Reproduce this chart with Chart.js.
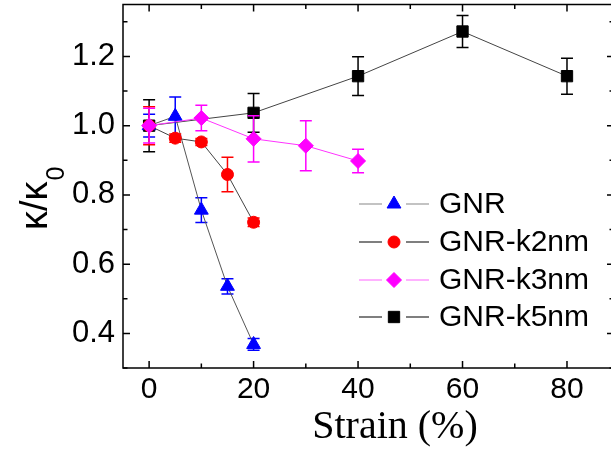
<!DOCTYPE html>
<html>
<head>
<meta charset="utf-8">
<script src="https://cdn.jsdelivr.net/npm/chart.js@4.4.1/dist/chart.umd.min.js"></script>
<style>
    html, body { margin: 0; padding: 0; background: #fff; overflow: hidden; }
    #wrap { width: 622px; height: 459px; }
</style>
</head>
<body>
<div id="wrap"><canvas id="kappaChart" width="622" height="459"></canvas></div>
<script>
// Series names
const seriesNames = ['GNR', 'GNR-k2nm', 'GNR-k3nm', 'GNR-k5nm'];

// Strain (%) of each series
const gnrStrain = [0, 5, 10, 15, 20];
const k2Strain = [0, 5, 10, 15, 20];
const k3Strain = [0, 10, 20, 30, 40];
const k5Strain = [0, 20, 40, 60, 80];

// kappa / kappa0
const gnrKappa = [1.0, 1.027, 0.756, 0.536, 0.368];
const k2Kappa = [1.0, 0.964, 0.953, 0.859, 0.721];
const k3Kappa = [1.0, 1.022, 0.962, 0.942, 0.898];
const k5Kappa = [1.0, 1.037, 1.143, 1.272, 1.143];

// Error bars (+/-)
const gnrErr = [0.033, 0.056, 0.036, 0.022, 0.017];
const k2Err = [0.055, 0.012, 0.01, 0.05, 0.012];
const k3Err = [0.05, 0.037, 0.067, 0.072, 0.034];
const k5Err = [0.075, 0.056, 0.056, 0.046, 0.052];

// Tick labels
const xTicks = [0, 20, 40, 60, 80];
const xMinorTicks = [10, 30, 50, 70];
const yTicks = [0.4, 0.6, 0.8, 1.0, 1.2];
const yMinorTicks = [0.3, 0.5, 0.7, 0.9, 1.1, 1.3];

function points(xs, ys) {
    return xs.map(function (x, i) { return { x: x, y: ys[i] }; });
}

// Error bars drawn just before each dataset so markers sit on top
const errorBarPlugin = {
    id: 'errorBars',
    beforeDatasetDraw: function (chart, args) {
        const ds = chart.data.datasets[args.index];
        if (!ds.errors) return;
        const ctx = chart.ctx;
        const yScale = chart.scales.y;
        const meta = args.meta;
        ctx.save();
        ctx.strokeStyle = ds.errorColor;
        ctx.lineWidth = 1.5;
        meta.data.forEach(function (pt, i) {
            const val = ds.data[i].y;
            const err = ds.errors[i];
            const top = yScale.getPixelForValue(val + err);
            const bot = yScale.getPixelForValue(val - err);
            ctx.beginPath();
            ctx.moveTo(pt.x, top);
            ctx.lineTo(pt.x, bot);
            ctx.moveTo(pt.x - 6, top);
            ctx.lineTo(pt.x + 6, top);
            ctx.moveTo(pt.x - 6, bot);
            ctx.lineTo(pt.x + 6, bot);
            ctx.stroke();
        });
        ctx.restore();
    }
};

// Frame, inward ticks, axis titles and legend
const decorPlugin = {
    id: 'decor',
    afterDraw: function (chart) {
        const ctx = chart.ctx;
        const a = chart.chartArea;
        const xs = chart.scales.x;
        const ys = chart.scales.y;
        ctx.save();
        ctx.strokeStyle = '#000';
        ctx.lineWidth = 1.5;
        ctx.strokeRect(a.left, a.top, a.right - a.left, a.bottom - a.top);

        ctx.beginPath();
        function xTick(v, len) {
            const px = xs.getPixelForValue(v);
            ctx.moveTo(px, a.bottom); ctx.lineTo(px, a.bottom - len);
            ctx.moveTo(px, a.top); ctx.lineTo(px, a.top + len);
        }
        function yTick(v, len) {
            const py = ys.getPixelForValue(v);
            ctx.moveTo(a.left, py); ctx.lineTo(a.left + len, py);
            ctx.moveTo(a.right, py); ctx.lineTo(a.right - len, py);
        }
        xTicks.forEach(function (v) { xTick(v, 7); });
        xMinorTicks.forEach(function (v) { xTick(v, 4.5); });
        yTicks.forEach(function (v) { yTick(v, 7); });
        yMinorTicks.forEach(function (v) { yTick(v, 4.5); });
        ctx.stroke();

        // x title
        ctx.fillStyle = '#000';
        ctx.font = '40px "Liberation Serif", "Times New Roman", serif';
        ctx.textAlign = 'center';
        ctx.textBaseline = 'alphabetic';
        ctx.fillText('Strain (%)', 395, 438);

        // y title with subscript
        ctx.save();
        ctx.translate(47, 230);
        ctx.rotate(-Math.PI / 2);
        ctx.textAlign = 'left';
        ctx.font = '38px "Liberation Sans", Arial, sans-serif';
        ctx.fillText('\u03BA/\u03BA', 0, 0);
        const w = ctx.measureText('\u03BA/\u03BA').width;
        ctx.font = '25px "Liberation Sans", Arial, sans-serif';
        ctx.fillText('0', w + 1, 17);
        ctx.restore();

        // legend
        const rows = [204, 242, 280, 317];
        ctx.font = '30px "Liberation Sans", Arial, sans-serif';
        ctx.textAlign = 'left';
        ctx.textBaseline = 'middle';
        chart.data.datasets.forEach(function (ds, i) {
            const y = rows[i];
            ctx.strokeStyle = ds.legendLine;
            ctx.lineWidth = 1.2;
            ctx.beginPath();
            ctx.moveTo(359, y); ctx.lineTo(382, y);
            ctx.moveTo(406, y); ctx.lineTo(429, y);
            ctx.stroke();
            ctx.fillStyle = ds.pointBackgroundColor;
            ctx.strokeStyle = ds.pointBorderColor;
            ctx.lineWidth = 1;
            Chart.helpers.drawPoint(ctx, {
                pointStyle: ds.pointStyle, radius: ds.pointRadius, rotation: 0, borderWidth: 1
            }, 394, y);
            ctx.fillStyle = '#000';
            ctx.fillText(ds.label, 439, y + 1);
        });
        ctx.restore();
    }
};

// Chart.js pads vertical scales for half a label; this plot has none
function noScalePadding(scale) {
    scale.paddingTop = 0;
    scale.paddingBottom = 0;
    scale.paddingLeft = 0;
    scale.paddingRight = 0;
}

const ctx = document.getElementById('kappaChart').getContext('2d');
const kappaChart = new Chart(ctx, {
    type: 'scatter',
    data: {
        datasets: [
            {
                label: seriesNames[0],
                data: points(gnrStrain, gnrKappa),
                errors: gnrErr,
                errorColor: '#0000ff',
                legendLine: '#888888',
                showLine: true,
                borderColor: '#555555',
                borderWidth: 1,
                pointStyle: 'triangle',
                pointRadius: 8,
                pointBackgroundColor: '#0000ff',
                pointBorderColor: '#0000ff',
                pointBorderWidth: 1,
                order: 3
            },
            {
                label: seriesNames[1],
                data: points(k2Strain, k2Kappa),
                errors: k2Err,
                errorColor: '#ff0000',
                legendLine: '#000000',
                showLine: true,
                borderColor: '#444444',
                borderWidth: 1,
                pointStyle: 'circle',
                pointRadius: 6,
                pointBackgroundColor: '#ff0000',
                pointBorderColor: '#ff0000',
                pointBorderWidth: 1,
                order: 2
            },
            {
                label: seriesNames[2],
                data: points(k3Strain, k3Kappa),
                errors: k3Err,
                errorColor: '#ff00ff',
                legendLine: '#ff66ff',
                showLine: true,
                borderColor: '#ff33ff',
                borderWidth: 1,
                pointStyle: 'rectRot',
                pointRadius: 7.5,
                pointBackgroundColor: '#ff00ff',
                pointBorderColor: '#ff00ff',
                pointBorderWidth: 1,
                order: 1
            },
            {
                label: seriesNames[3],
                data: points(k5Strain, k5Kappa),
                errors: k5Err,
                errorColor: '#000000',
                legendLine: '#000000',
                showLine: true,
                borderColor: '#444444',
                borderWidth: 1,
                pointStyle: 'rect',
                pointRadius: 8,
                pointBackgroundColor: '#000000',
                pointBorderColor: '#000000',
                pointBorderWidth: 1,
                order: 4
            }
        ]
    },
    options: {
        responsive: false,
        devicePixelRatio: 1,
        animation: false,
        layout: { autoPadding: false, padding: { top: 4.5, right: 8, bottom: 0, left: 0 } },
        plugins: {
            legend: { display: false },
            tooltip: { enabled: false }
        },
        scales: {
            x: {
                type: 'linear',
                min: -5,
                max: 89,
                grid: { display: false, drawTicks: false },
                border: { display: false },
                afterBuildTicks: function (scale) {
                    scale.ticks = xTicks.map(function (v) { return { value: v }; });
                },
                afterFit: function (scale) { scale.height = 91; noScalePadding(scale); },
                ticks: {
                    padding: 4,
                    color: '#000',
                    maxRotation: 0,
                    font: { family: '"Liberation Sans", Arial, sans-serif', size: 30 }
                }
            },
            y: {
                type: 'linear',
                min: 0.3,
                max: 1.35,
                grid: { display: false, drawTicks: false },
                border: { display: false },
                afterBuildTicks: function (scale) {
                    scale.ticks = yTicks.map(function (v) { return { value: v }; });
                },
                afterFit: function (scale) { scale.width = 123; noScalePadding(scale); },
                ticks: {
                    padding: 8,
                    color: '#000',
                    font: { family: '"Liberation Sans", Arial, sans-serif', size: 31 },
                    callback: function (v) { return Number(v).toFixed(1); }
                }
            }
        }
    },
    plugins: [errorBarPlugin, decorPlugin]
});
</script>
</body>
</html>
